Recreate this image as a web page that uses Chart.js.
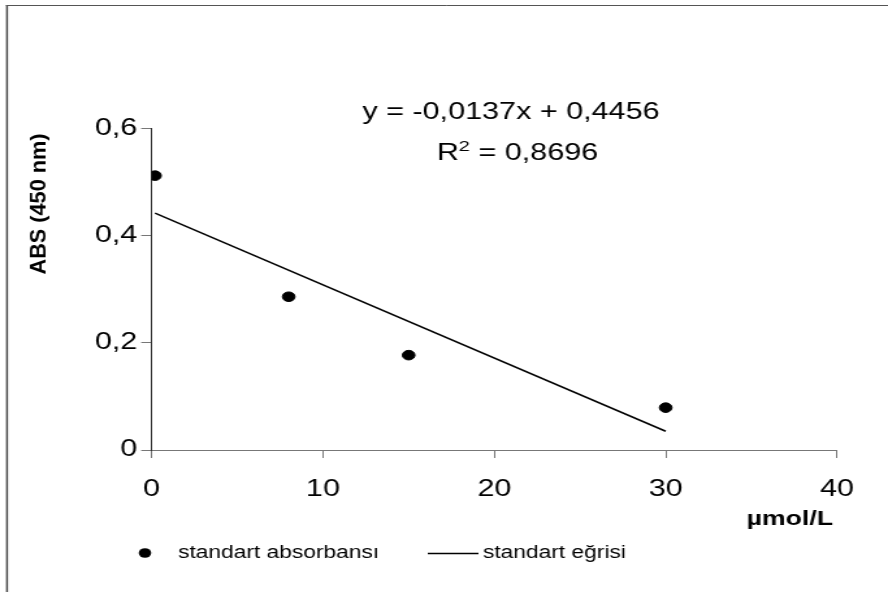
<!DOCTYPE html>
<html>
<head>
<meta charset="utf-8">
<script src="https://cdn.jsdelivr.net/npm/chart.js@4.4.0/dist/chart.umd.min.js"></script>
<style>
  html, body { margin: 0; padding: 0; background: #fff; overflow: hidden; }
  /* the reference is stretched sideways, so the canvas is drawn narrow and widened by css */
  #chart { display: block; width: 888px !important; height: 592px !important; }
</style>
</head>
<body>
<canvas id="chart" width="683" height="592" style="width:888px;height:592px"></canvas>
<script>
// Data
const concentrations = [0.2, 8, 15, 30];          // µmol/L
const absorbances = [0.512, 0.286, 0.177, 0.079]; // ABS (450 nm)
const trendX = [0.2, 30];
const trendY = [0.442, 0.035];
const xTicks = [0, 10, 20, 30, 40];
const yTicks = [0, 0.2, 0.4, 0.6];

const seriesNames = ['standart absorbansı', 'standart eğrisi'];
const equationText = 'y = -0,0137x + 0,4456';
const r2Text = ' = 0,8696';
const xTitle = 'µmol/L';
const yTitle = 'ABS (450 nm)';

const FONT = '"Liberation Sans", Arial, sans-serif';

function fmtComma(v) {
    if (Math.abs(v) < 1e-9) return '0';
    return v.toFixed(1).replace('.', ',');
}

// Extra text and frame drawn on top of the chart
const decorations = {
    id: 'decorations',
    afterDraw(chart) {
        const ctx = chart.ctx;
        ctx.save();

        // outer frame (left and top edges only are visible)
        ctx.strokeStyle = '#444';
        ctx.lineWidth = 1.5;
        ctx.beginPath();
        ctx.moveTo(5.4, 592);
        ctx.lineTo(5.4, 5);
        ctx.stroke();
        ctx.strokeStyle = '#555';
        ctx.lineWidth = 1;
        ctx.beginPath();
        ctx.moveTo(4.6, 5.5);
        ctx.lineTo(683, 5.5);
        ctx.stroke();

        ctx.fillStyle = '#000';

        // y axis title, rotated and stretched along its length
        ctx.font = 'bold 16px ' + FONT;
        const tw = ctx.measureText(yTitle).width;
        ctx.save();
        ctx.translate(30.5, 204);
        ctx.rotate(-Math.PI / 2);
        ctx.scale(141 / tw, 1);
        ctx.textAlign = 'center';
        ctx.textBaseline = 'middle';
        ctx.fillText(yTitle, 0, 0);
        ctx.restore();

        // x axis title
        ctx.font = 'bold 20.5px ' + FONT;
        ctx.textAlign = 'right';
        ctx.textBaseline = 'alphabetic';
        ctx.fillText(xTitle, 640.7, 525);

        // regression equation
        ctx.font = '23.5px ' + FONT;
        ctx.textAlign = 'center';
        ctx.fillText(equationText, 393, 119);

        // R² line
        ctx.textAlign = 'left';
        const rW = ctx.measureText('R').width;
        const restW = ctx.measureText(r2Text).width;
        ctx.font = '15.5px ' + FONT;
        const supW = ctx.measureText('2').width;
        let x = 398 - (rW + supW + restW) / 2;
        ctx.font = '23.5px ' + FONT;
        ctx.fillText('R', x, 159.5);
        x += rW;
        ctx.font = '15.5px ' + FONT;
        ctx.fillText('2', x, 151);
        x += supW;
        ctx.font = '23.5px ' + FONT;
        ctx.fillText(r2Text, x, 159.5);

        // legend
        ctx.beginPath();
        ctx.arc(111.5, 553, 4.8, 0, Math.PI * 2);
        ctx.fill();
        ctx.font = '17.5px ' + FONT;
        ctx.textBaseline = 'middle';
        ctx.fillText(seriesNames[0], 137, 553);
        ctx.strokeStyle = '#000';
        ctx.lineWidth = 1.5;
        ctx.beginPath();
        ctx.moveTo(329, 553.5);
        ctx.lineTo(368, 553.5);
        ctx.stroke();
        ctx.fillText(seriesNames[1], 371.5, 553);

        ctx.restore();
    }
};

const pointData = concentrations.map((c, i) => ({ x: c, y: absorbances[i] }));
const lineData = trendX.map((c, i) => ({ x: c, y: trendY[i] }));

new Chart(document.getElementById('chart'), {
    type: 'scatter',
    data: {
        datasets: [
            {
                label: seriesNames[0],
                data: pointData,
                pointRadius: 4.8,
                pointHoverRadius: 4.8,
                backgroundColor: '#000',
                borderColor: '#000',
                showLine: false
            },
            {
                label: seriesNames[1],
                data: lineData,
                showLine: true,
                pointRadius: 0,
                borderColor: '#000',
                borderWidth: 1.5,
                fill: false
            }
        ]
    },
    options: {
        responsive: false,
        animation: false,
        devicePixelRatio: 1,
        layout: { padding: { left: 0, right: 39.2, top: 128.5, bottom: 82 } },
        plugins: {
            legend: { display: false },
            tooltip: { enabled: false }
        },
        scales: {
            x: {
                type: 'linear',
                min: xTicks[0],
                max: xTicks[xTicks.length - 1],
                afterBuildTicks: s => { s.ticks = xTicks.map(v => ({ value: v })); },
                afterFit: s => { s.height = 60; },
                ticks: {
                    color: '#000',
                    font: { family: FONT, size: 23.5 },
                    padding: 17,
                    maxRotation: 0,
                    callback: v => String(v)
                },
                grid: { drawOnChartArea: false, tickLength: 8, color: '#777' },
                border: { color: '#777', width: 1 }
            },
            y: {
                type: 'linear',
                min: yTicks[0],
                max: yTicks[yTicks.length - 1],
                afterBuildTicks: s => { s.ticks = yTicks.map(v => ({ value: v })); },
                afterFit: s => { s.width = 116.6; },
                ticks: {
                    color: '#000',
                    font: { family: FONT, size: 23.5 },
                    padding: 3,
                    callback: v => fmtComma(v)
                },
                grid: { drawOnChartArea: false, tickLength: 8, color: '#777' },
                border: { color: '#333', width: 1 }
            }
        }
    },
    plugins: [decorations]
});
</script>
</body>
</html>
